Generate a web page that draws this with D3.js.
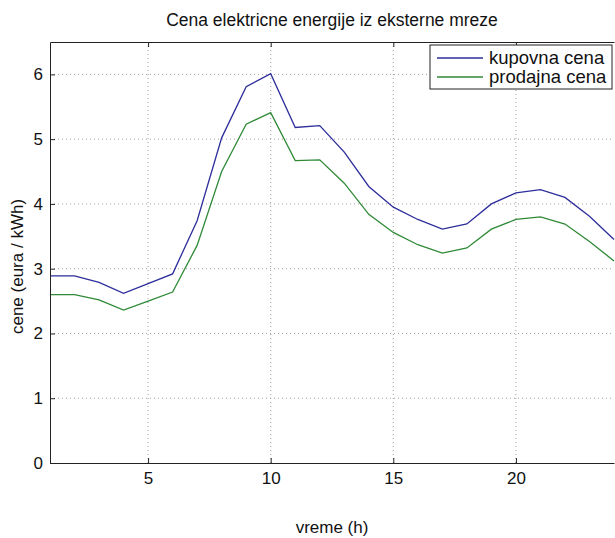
<!DOCTYPE html>
<html>
<head>
<meta charset="utf-8">
<script src="https://cdn.jsdelivr.net/npm/d3@7"></script>
<style>
  body { margin: 0; background: #fff; }
  svg text { font-family: "Liberation Sans", Arial, sans-serif; fill: #111; }
</style>
</head>
<body>
<div id="chart"></div>
<script>
// data
const hours = [1, 2, 3, 4, 5, 6, 7, 8, 9, 10, 11, 12, 13, 14, 15, 16, 17, 18, 19, 20, 21, 22, 23, 24];
const kupovna = [2.89, 2.89, 2.79, 2.62, 2.77, 2.92, 3.74, 5.02, 5.81, 6.01, 5.18, 5.21, 4.80, 4.27, 3.95, 3.76, 3.61, 3.69, 4.00, 4.17, 4.22, 4.10, 3.81, 3.45];
const prodajna = [2.60, 2.60, 2.52, 2.36, 2.50, 2.64, 3.36, 4.50, 5.23, 5.41, 4.67, 4.68, 4.32, 3.84, 3.56, 3.37, 3.24, 3.32, 3.61, 3.76, 3.80, 3.69, 3.42, 3.12];
const seriesNames = ["kupovna cena", "prodajna cena"];
const xTicks = [5, 10, 15, 20];
const yTicks = [0, 1, 2, 3, 4, 5, 6];

const width = 615, height = 538;
// the axes end at the right edge of the picture
const plot = { left: 50, top: 42, right: 614, bottom: 463 };

const svg = d3.select("#chart")
    .append("svg")
    .attr("width", width)
    .attr("height", height);

const x = d3.scaleLinear().domain([1, 24]).range([plot.left, plot.right]);
const y = d3.scaleLinear().domain([0, 6.5]).range([plot.bottom, plot.top]);

// grid (dotted)
const grid = svg.append("g");
grid.selectAll(".gx")
    .data(xTicks)
    .join("line")
    .attr("x1", d => x(d)).attr("x2", d => x(d))
    .attr("y1", plot.top).attr("y2", plot.bottom)
    .attr("stroke", "#a0a0a0")
    .attr("stroke-dasharray", "1,3");
grid.selectAll(".gy")
    .data(yTicks.filter(d => d > 0))
    .join("line")
    .attr("x1", plot.left).attr("x2", plot.right)
    .attr("y1", d => y(d)).attr("y2", d => y(d))
    .attr("stroke", "#a0a0a0")
    .attr("stroke-dasharray", "1,3");

// lines
const line = (vals) => d3.line()
    .x((d, i) => x(hours[i]))
    .y(d => y(d))(vals);

svg.append("path")
    .attr("d", line(kupovna))
    .attr("fill", "none")
    .attr("stroke", "#2d2d9c")
    .attr("stroke-width", 1.3);

svg.append("path")
    .attr("d", line(prodajna))
    .attr("fill", "none")
    .attr("stroke", "#2f8a36")
    .attr("stroke-width", 1.3);

// axes (ticks point inward, MATLAB style)
const tickLen = 5;
svg.append("g")
    .attr("transform", `translate(0,${plot.bottom})`)
    .call(d3.axisBottom(x).tickValues(xTicks).tickSize(-tickLen).tickPadding(9).tickSizeOuter(0))
    .call(g => g.select(".domain").attr("stroke", "#222"))
    .call(g => g.selectAll("text").style("font-size", "17px").attr("fill", "#111"));

svg.append("g")
    .attr("transform", `translate(0,${plot.top})`)
    .call(d3.axisTop(x).tickValues(xTicks).tickSize(-tickLen).tickFormat("").tickSizeOuter(0))
    .call(g => g.select(".domain").attr("stroke", "#222"));

svg.append("g")
    .attr("transform", `translate(${plot.left},0)`)
    .call(d3.axisLeft(y).tickValues(yTicks).tickFormat(d3.format("d")).tickSize(-tickLen).tickPadding(7).tickSizeOuter(0))
    .call(g => g.select(".domain").attr("stroke", "#222"))
    .call(g => g.selectAll("text").style("font-size", "17px").attr("fill", "#111"));

svg.selectAll(".tick line").attr("stroke", "#222");

// title and axis labels
svg.append("text")
    .attr("x", (plot.left + plot.right) / 2)
    .attr("y", 26)
    .attr("text-anchor", "middle")
    .style("font-size", "17.5px")
    .text("Cena elektricne energije iz eksterne mreze");

svg.append("text")
    .attr("x", (plot.left + plot.right) / 2)
    .attr("y", 533)
    .attr("text-anchor", "middle")
    .style("font-size", "17px")
    .text("vreme (h)");

svg.append("text")
    .attr("transform", `translate(23,${(plot.top + plot.bottom) / 2 + 14}) rotate(-90)`)
    .attr("text-anchor", "middle")
    .style("font-size", "17px")
    .text("cene (eura / kWh)");

// legend
const legend = svg.append("g");
legend.append("rect")
    .attr("x", 430).attr("y", 45)
    .attr("width", 182).attr("height", 44)
    .attr("fill", "#fff")
    .attr("stroke", "#222");

const legendColors = ["#2d2d9c", "#2f8a36"];
seriesNames.forEach((name, i) => {
    const ly = 58 + i * 19;
    legend.append("line")
        .attr("x1", 437).attr("x2", 483)
        .attr("y1", ly).attr("y2", ly)
        .attr("stroke", legendColors[i])
        .attr("stroke-width", 1.3);
    legend.append("text")
        .attr("x", 489)
        .attr("y", ly)
        .attr("dy", "0.35em")
        .style("font-size", "18.5px")
        .text(name);
});
</script>
</body>
</html>
